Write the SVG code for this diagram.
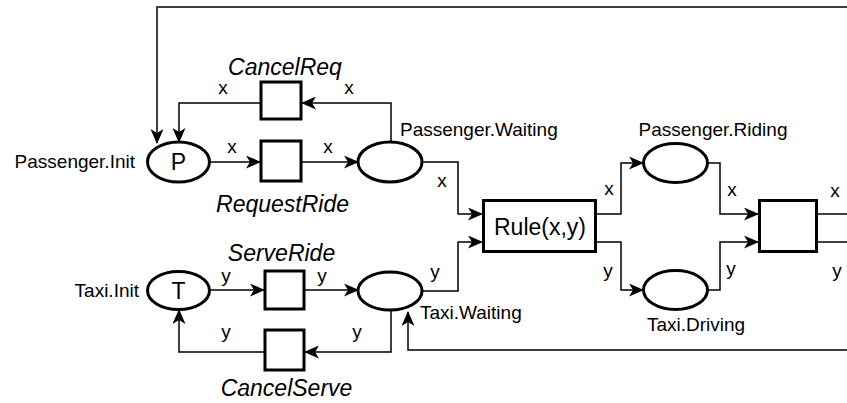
<svg xmlns="http://www.w3.org/2000/svg" width="847" height="403" viewBox="0 0 847 403">
<style>
.node{fill:#fff;stroke:#000;stroke-width:3}
.edge{fill:none;stroke:#000;stroke-width:1.5}
text{font-family:"Liberation Sans",Arial,Helvetica,sans-serif;fill:#000}
.lbl{font-size:19px}
.it{font-size:23px;font-style:italic}
.big{font-size:23px}
</style>
<defs>
<marker id="arr" markerUnits="userSpaceOnUse" markerWidth="15" markerHeight="13" viewBox="0 0 15 13" refX="14" refY="6.5" orient="auto">
<path d="M0,0 L15,6.5 L0,13 L4,6.5 Z" fill="#000"/>
</marker>
</defs>
<rect width="847" height="403" fill="#fff"/>
<g id="connectors">
<path class="edge" d="M847,7 H157 V143" marker-end="url(#arr)"/>
<path class="edge" d="M391,142 V103 H302" marker-end="url(#arr)"/>
<path class="edge" d="M261,103 H179 V142" marker-end="url(#arr)"/>
<path class="edge" d="M210,162 H260" marker-end="url(#arr)"/>
<path class="edge" d="M301,162 H358" marker-end="url(#arr)"/>
<path class="edge" d="M210,290 H264" marker-end="url(#arr)"/>
<path class="edge" d="M304,290 H358" marker-end="url(#arr)"/>
<path class="edge" d="M391,310 V352 H305" marker-end="url(#arr)"/>
<path class="edge" d="M265,352 H179 V310" marker-end="url(#arr)"/>
<path class="edge" d="M422,162 H458 V214 H482" marker-end="url(#arr)"/>
<path class="edge" d="M422,291 H458 V242 H482" marker-end="url(#arr)"/>
<path class="edge" d="M597,214 H621 V163 H643" marker-end="url(#arr)"/>
<path class="edge" d="M597,242 H621 V290 H643" marker-end="url(#arr)"/>
<path class="edge" d="M708,163 H720 V214 H758" marker-end="url(#arr)"/>
<path class="edge" d="M708,290 H720 V242 H758" marker-end="url(#arr)"/>
<path class="edge" d="M818,214 H847"/>
<path class="edge" d="M818,242 H847"/>
<path class="edge" d="M847,350 H408 V312" marker-end="url(#arr)"/>
</g>
<g id="arc-labels" class="lbl">
<text x="223" y="94" text-anchor="middle">x</text>
<text x="349" y="94" text-anchor="middle">x</text>
<text x="232" y="153" text-anchor="middle">x</text>
<text x="328" y="153" text-anchor="middle">x</text>
<text x="442" y="187" text-anchor="middle">x</text>
<text x="609" y="195" text-anchor="middle">x</text>
<text x="732" y="196" text-anchor="middle">x</text>
<text x="835" y="197" text-anchor="middle">x</text>
<text x="226" y="282" text-anchor="middle">y</text>
<text x="322" y="282" text-anchor="middle">y</text>
<text x="226" y="338" text-anchor="middle">y</text>
<text x="357" y="338" text-anchor="middle">y</text>
<text x="435" y="278" text-anchor="middle">y</text>
<text x="608" y="277" text-anchor="middle">y</text>
<text x="731" y="275" text-anchor="middle">y</text>
<text x="837" y="277" text-anchor="middle">y</text>
</g>
<g id="passenger-init">
<ellipse class="node" cx="178.5" cy="162" rx="31" ry="20"/>
<text class="big" x="178.5" y="170" text-anchor="middle">P</text>
<text class="lbl" x="135" y="168" text-anchor="end">Passenger.Init</text>
</g>
<g id="taxi-init">
<ellipse class="node" cx="178.5" cy="290.5" rx="31" ry="19"/>
<text class="big" x="178.5" y="298.5" text-anchor="middle">T</text>
<text class="lbl" x="139" y="297" text-anchor="end">Taxi.Init</text>
</g>
<g id="cancel-req">
<rect class="node" x="261" y="82" width="40" height="37"/>
<text class="it" x="285" y="75" text-anchor="middle">CancelReq</text>
</g>
<g id="request-ride">
<rect class="node" x="261" y="141" width="40" height="40"/>
<text class="it" x="282.5" y="212" text-anchor="middle">RequestRide</text>
</g>
<g id="serve-ride">
<rect class="node" x="265" y="271" width="39" height="38"/>
<text class="it" x="281.5" y="261" text-anchor="middle">ServeRide</text>
</g>
<g id="cancel-serve">
<rect class="node" x="265" y="330" width="39" height="40"/>
<text class="it" x="286.5" y="396" text-anchor="middle">CancelServe</text>
</g>
<g id="passenger-waiting">
<ellipse class="node" cx="390" cy="162" rx="32" ry="20"/>
<text class="lbl" x="400" y="136">Passenger.Waiting</text>
</g>
<g id="taxi-waiting">
<ellipse class="node" cx="390" cy="291" rx="32" ry="19"/>
<text class="lbl" x="420" y="319">Taxi.Waiting</text>
</g>
<g id="rule">
<rect class="node" x="483.5" y="200.5" width="112" height="51"/>
<text class="big" x="540" y="235" text-anchor="middle">Rule(x,y)</text>
</g>
<g id="passenger-riding">
<ellipse class="node" cx="675.5" cy="163" rx="32" ry="19.5"/>
<text class="lbl" x="713" y="136" text-anchor="middle">Passenger.Riding</text>
</g>
<g id="taxi-driving">
<ellipse class="node" cx="675.5" cy="290" rx="32" ry="19.5"/>
<text class="lbl" x="696" y="331" text-anchor="middle">Taxi.Driving</text>
</g>
<g id="end-transition">
<rect class="node" x="759.5" y="200.5" width="57" height="51"/>
</g>
</svg>
